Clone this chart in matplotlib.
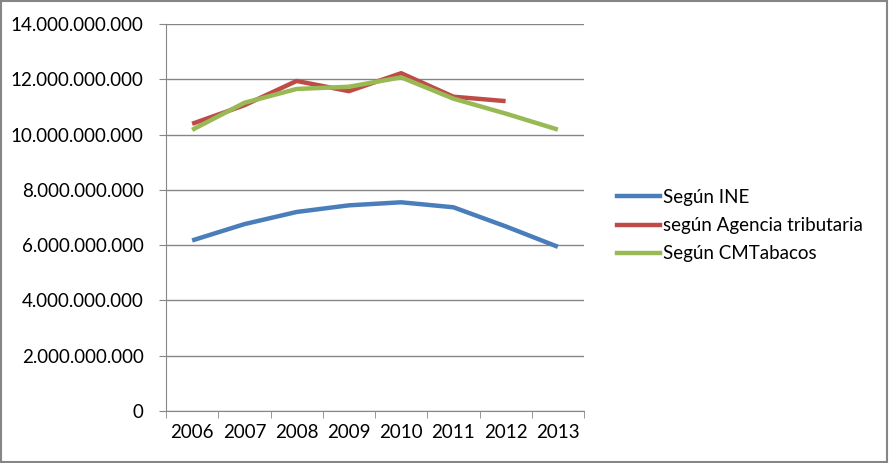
import matplotlib.pyplot as plt
from matplotlib.ticker import FuncFormatter, FixedLocator
from matplotlib.lines import Line2D

# datos
anios = ['2006', '2007', '2008', '2009', '2010', '2011', '2012', '2013']
ine = [6.17e9, 6.76e9, 7.20e9, 7.44e9, 7.55e9, 7.37e9, 6.68e9, 5.94e9]
agencia = [10.39e9, 11.06e9, 11.94e9, 11.57e9, 12.22e9, 11.37e9, 11.21e9]
cmtabacos = [10.17e9, 11.15e9, 11.65e9, 11.73e9, 12.07e9, 11.30e9, 10.76e9, 10.18e9]

nombres = ['Según INE', 'según Agencia tributaria', 'Según CMTabacos']
colores = ['#4A7EBB', '#BE4B48', '#98B954']

plt.rcParams['font.family'] = ['Lato', 'DejaVu Sans']

fig = plt.figure(figsize=(8.89, 4.63), dpi=100)
ax = fig.add_axes([166 / 889, 1 - 411 / 463, (584 - 166) / 889, (411 - 24) / 463])

x = list(range(len(anios)))
ax.plot(x, ine, color=colores[0], lw=3.2, solid_capstyle='butt')
ax.plot(x[:len(agencia)], agencia, color=colores[1], lw=3.2, solid_capstyle='butt')
ax.plot(x, cmtabacos, color=colores[2], lw=3.2, solid_capstyle='butt')

ax.set_xlim(-0.5, len(anios) - 0.5)
ax.set_ylim(0, 14e9)
ax.set_yticks([i * 2e9 for i in range(8)])
ax.yaxis.set_major_formatter(FuncFormatter(lambda v, p: f'{int(v):,}'.replace(',', '.')))
ax.set_xticks(x)
ax.set_xticklabels(anios)
ax.xaxis.set_minor_locator(FixedLocator([i - 0.5 for i in range(len(anios) + 1)]))
ax.tick_params(axis='x', which='major', length=0, pad=9, labelsize=13.5)
ax.tick_params(axis='x', which='minor', length=5, direction='out', color='#868686')
ax.tick_params(axis='y', length=5, direction='out', color='#868686', pad=11, labelsize=13.5)

ax.grid(axis='y', color='#868686', lw=1)
ax.set_axisbelow(True)
for s in ['top', 'right']:
    ax.spines[s].set_visible(False)
ax.spines['left'].set_color('#868686')
ax.spines['bottom'].set_color('#868686')

handles = [Line2D([], [], color=c, lw=3.2) for c in colores]
fig.legend(handles, nombres, loc='upper left', bbox_to_anchor=(600 / 889, 1 - 172 / 463),
           frameon=False, fontsize=13.5, handlelength=2.3, handletextpad=0.15, labelspacing=0.6)

# marco exterior
fig.add_artist(plt.Rectangle((0.001, 0.002), 0.997, 0.995, transform=fig.transFigure,
                             fill=False, edgecolor='#868686', lw=1.5))

fig.savefig('out.png', dpi=100)
